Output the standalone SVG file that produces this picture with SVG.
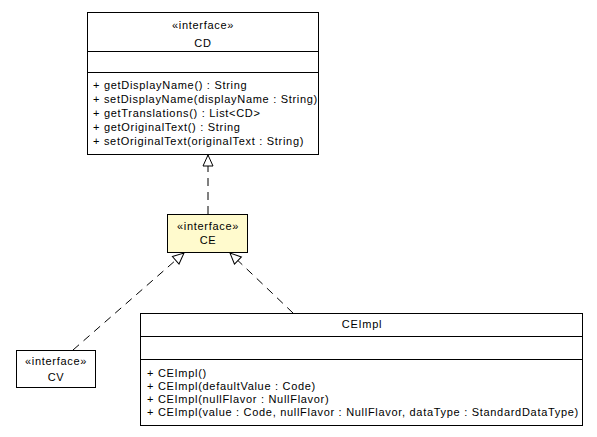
<svg xmlns="http://www.w3.org/2000/svg" width="597" height="437" viewBox="0 0 597 437">
<style>
text{font-family:"Liberation Sans",Arial,Helvetica,sans-serif;font-size:11px;letter-spacing:0.7px;fill:#000}
.c{text-anchor:middle}
.box{fill:#fff;stroke:#000;stroke-width:1}
.sel{fill:#fffacd;stroke:#000;stroke-width:1}
.sep{stroke:#000;stroke-width:1}
.dash{fill:none;stroke:#000;stroke-width:1;stroke-dasharray:8,6}
</style>
<defs>
<marker id="tri" markerUnits="userSpaceOnUse" markerWidth="14" markerHeight="14" viewBox="-1 -1 14 14" refX="11" refY="5" orient="auto" overflow="visible">
<path d="M0,0 L11,5 L0,10 z" fill="#fff" stroke="#000" stroke-width="1"/>
</marker>
</defs>
<g id="connectors">
<line class="dash" x1="208" y1="214" x2="208" y2="155" marker-end="url(#tri)"/>
<line class="dash" x1="73" y1="350" x2="184" y2="253" marker-end="url(#tri)"/>
<line class="dash" x1="293" y1="313" x2="230" y2="253" marker-end="url(#tri)"/>
</g>
<g id="CD">
<rect class="box" x="87.5" y="12.5" width="231" height="142"/>
<text class="c" x="203" y="29">«interface»</text>
<text class="c" x="203" y="47">CD</text>
<line class="sep" x1="87.5" y1="51.5" x2="318.5" y2="51.5"/>
<line class="sep" x1="87.5" y1="72.5" x2="318.5" y2="72.5"/>
<text x="93" y="89">+ getDisplayName() : String</text>
<text x="93" y="103">+ setDisplayName(displayName : String)</text>
<text x="93" y="117">+ getTranslations() : List&lt;CD&gt;</text>
<text x="93" y="131">+ getOriginalText() : String</text>
<text x="93" y="145">+ setOriginalText(originalText : String)</text>
</g>
<g id="CE">
<rect class="sel" x="167.5" y="214.5" width="80" height="38"/>
<text class="c" x="208" y="230">«interface»</text>
<text class="c" x="208" y="244">CE</text>
</g>
<g id="CV">
<rect class="box" x="16.5" y="350.5" width="79" height="37"/>
<text class="c" x="56" y="364.5">«interface»</text>
<text class="c" x="56" y="380.5">CV</text>
</g>
<g id="CEImpl">
<rect class="box" x="140.5" y="313.5" width="442" height="112"/>
<text class="c" x="362" y="328">CEImpl</text>
<line class="sep" x1="140.5" y1="336.5" x2="582.5" y2="336.5"/>
<line class="sep" x1="140.5" y1="359.5" x2="582.5" y2="359.5"/>
<text x="147" y="377">+ CEImpl()</text>
<text x="147" y="390">+ CEImpl(defaultValue : Code)</text>
<text x="147" y="403">+ CEImpl(nullFlavor : NullFlavor)</text>
<text x="147" y="416">+ CEImpl(value : Code, nullFlavor : NullFlavor, dataType : StandardDataType)</text>
</g>
</svg>
